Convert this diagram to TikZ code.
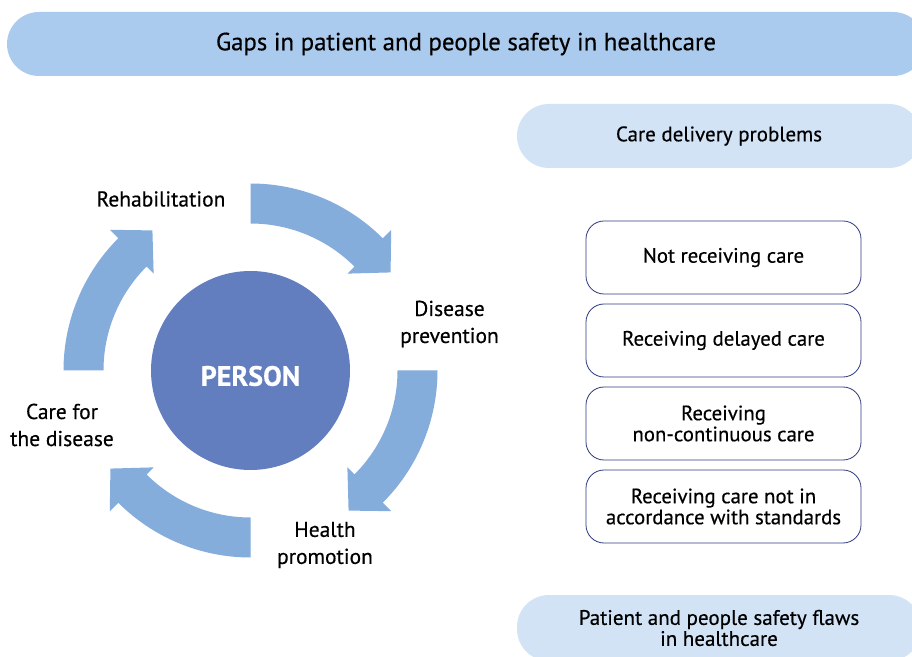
\documentclass[tikz,border=0pt]{standalone}
\usepackage{fontspec}
\setmainfont{PT Sans}[FakeBold=0.4]
\definecolor{titlefill}{HTML}{AACBEE}
\definecolor{pillfill}{HTML}{D2E3F5}
\definecolor{arrowfill}{HTML}{84ADDC}
\definecolor{personfill}{HTML}{627EBF}
\definecolor{boxline}{HTML}{2E3A80}
\newcommand\cycarrow[1]{%
  \fill[arrowfill, shift={(person.center)}]
    ({#1}:187pt) arc[start angle={#1}, end angle={#1-45}, radius=187pt]
    -- ({#1-45}:199pt) -- ({#1-55}:171pt) -- ({#1-45}:137pt) -- ({#1-45}:147pt)
    arc[start angle={#1-45}, end angle={#1}, radius=147pt] -- cycle;}
\begin{document}
\begin{tikzpicture}[x=1pt,y=1pt,
  lbl/.style={font=\fontsize{21.5}{27}\selectfont, align=center, text=black, inner sep=0pt},
  pill/.style={fill=#1, rounded corners=32pt, minimum width=404pt, minimum height=64pt, inner sep=0pt, align=center},
  itembox/.style={draw=boxline, line width=0.8pt, rounded corners=18pt, fill=white,
    minimum width=275pt, minimum height=73pt, inner sep=0pt, align=center,
    font=\fontsize{20.8}{21}\selectfont},
]
\useasboundingbox (0,0) rectangle (912,656);
\clip (0,0) rectangle (912,656);
\fill[white] (0,0) rectangle (912,656);
% title
\node[fill=titlefill, rounded corners=32pt, minimum width=918pt, minimum height=64pt, inner sep=0pt,
  font=\fontsize{24.8}{26}\selectfont] (title) at (466,612) {Gaps in patient and people safety in healthcare};
% pills
\node[pill=pillfill, font=\fontsize{21}{21}\selectfont] (care) at (719,520) {Care delivery problems};
\node[pill=pillfill, minimum height=66pt, font=\fontsize{21}{21}\selectfont] (flaws) at (719,28)
  {Patient and people safety flaws\\in healthcare};
% items
\node[itembox] (b1) at (723.5,398.5) {Not receiving care};
\node[itembox] (b2) at (723.5,315.5) {Receiving delayed care};
\node[itembox] (b3) at (723.5,232.5) {Receiving\\non-continuous care};
\node[itembox] (b4) at (723.5,149.5) {Receiving care not in\\accordance with standards};
% cycle
\node[circle, fill=personfill, minimum size=199pt, inner sep=0pt] (person) at (250.5,285.5) {};
\node[text=white, font=\fontsize{28}{30}\selectfont\bfseries, inner sep=0pt] (personlabel)
  at ([yshift=-5.5pt]person.center) {PERSON};
\cycarrow{90}
\cycarrow{0}
\cycarrow{-90}
\cycarrow{180}
\node[lbl] (rehab) at (161,457) {Rehabilitation};
\node[lbl] (prev) at (449.5,332) {Disease\\prevention};
\node[lbl] (health) at (325,111) {Health\\promotion};
\node[lbl] (cure) at (62,231) {Care for\\the disease};
\end{tikzpicture}
\end{document}
